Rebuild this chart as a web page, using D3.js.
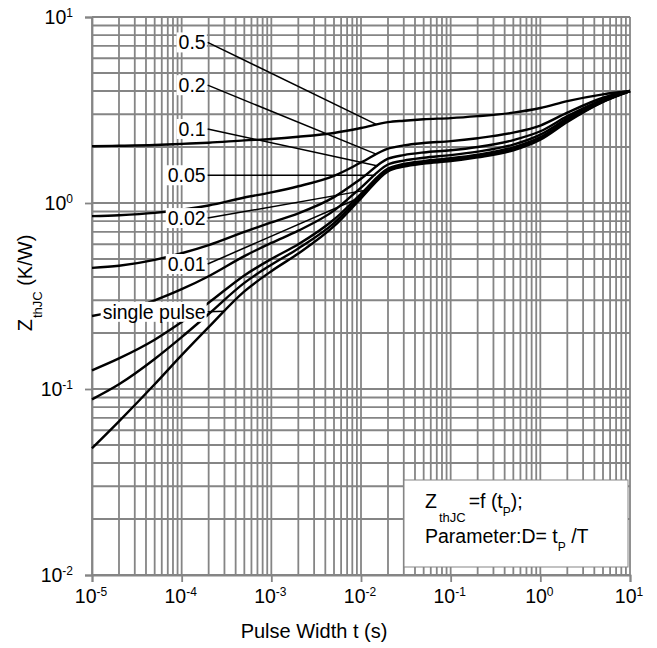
<!DOCTYPE html>
<html>
<head>
<meta charset="utf-8">
<script src="https://cdn.jsdelivr.net/npm/d3@7/dist/d3.min.js"></script>
<style>
html,body{margin:0;padding:0;background:#fff;}
svg{display:block;}
text{font-family:"Liberation Sans", Arial, Helvetica, sans-serif; fill:#000;}
</style>
</head>
<body>
<svg id="chart" width="657" height="648"></svg>
<script>
// ---------- data ----------
const pulseWidths = [1e-5,2e-5,5e-5,1e-4,2e-4,5e-4,1e-3,2e-3,5e-3,1e-2,2e-2,3e-2,5e-2,0.1,0.2,0.5,1,2,5,10];
const zD05    = [2.02,2.03,2.05,2.08,2.11,2.17,2.21,2.27,2.38,2.53,2.72,2.77,2.82,2.86,2.93,3.06,3.24,3.53,3.84,4.0];
const zD02    = [0.85,0.86,0.885,0.92,0.97,1.07,1.14,1.23,1.40,1.65,1.96,2.04,2.10,2.15,2.23,2.39,2.61,3.06,3.68,4.0];
const zD01    = [0.448,0.46,0.495,0.537,0.594,0.70,0.787,0.88,1.075,1.35,1.73,1.81,1.87,1.92,2.00,2.18,2.43,2.93,3.60,4.0];
const zD005   = [0.247,0.264,0.30,0.344,0.404,0.518,0.61,0.71,0.91,1.21,1.61,1.69,1.75,1.81,1.89,2.06,2.33,2.85,3.56,4.0];
const zD002   = [0.126,0.146,0.184,0.229,0.291,0.408,0.50,0.60,0.815,1.12,1.53,1.62,1.68,1.74,1.82,1.99,2.26,2.79,3.53,4.0];
const zD001   = [0.088,0.106,0.145,0.19,0.253,0.372,0.466,0.57,0.78,1.09,1.50,1.59,1.65,1.71,1.79,1.95,2.22,2.76,3.51,4.0];
const zSingle = [0.048,0.067,0.106,0.152,0.215,0.335,0.43,0.535,0.75,1.06,1.48,1.57,1.63,1.68,1.76,1.92,2.19,2.73,3.50,4.0];

const seriesNames  = ["0.5","0.2","0.1","0.05","0.02","0.01","single pulse"];
const seriesValues = [zD05, zD02, zD01, zD005, zD002, zD001, zSingle];
// label anchor (Z value at the label's right edge) and the pulse width where each leader meets its curve
const labelZ  = [7.3, 4.3, 2.5, 1.41, 0.83, 0.47, 0.26];
const leaderT = [0.015, 0.015, 0.0155, 0.0145, 0.011, 0.0095, 3e-4];
const labelT  = 1.95e-4;

const xTickExponents = [-5,-4,-3,-2,-1,0,1];
const yTickExponents = [-2,-1,0,1];

// ---------- chart ----------
const svg = d3.select("#chart");
const L = 92, R = 630, T = 17, B = 575;
const x = d3.scaleLog().domain([1e-5, 10]).range([L, R]);
const y = d3.scaleLog().domain([0.01, 10]).range([B, T]);
const gridColor = "#858585";
const GW = 1.8;
const FS = 19.5;

svg.append("rect").attr("width",657).attr("height",648).attr("fill","#fff");

// grid
const grid = svg.append("g");
grid.selectAll("line.v").data(x.ticks()).join("line").attr("class","v")
  .attr("x1", d => x(d)).attr("x2", d => x(d)).attr("y1", T).attr("y2", B)
  .attr("stroke", gridColor).attr("stroke-width", GW);
grid.selectAll("line.h").data(y.ticks()).join("line").attr("class","h")
  .attr("x1", L).attr("x2", R).attr("y1", d => y(d)).attr("y2", d => y(d))
  .attr("stroke", gridColor).attr("stroke-width", GW);

// axes (major ticks only)
const xDec = xTickExponents.map(e => Math.pow(10, e));
const yDec = yTickExponents.map(e => Math.pow(10, e));
const xAxis = svg.append("g").attr("transform", `translate(0,${B})`)
  .call(d3.axisBottom(x).tickValues(xDec).tickSize(7).tickFormat(""));
const yAxis = svg.append("g").attr("transform", `translate(${L},0)`)
  .call(d3.axisLeft(y).tickValues(yDec).tickSize(7).tickFormat(""));
[xAxis, yAxis].forEach(a => {
  a.select(".domain").attr("stroke", gridColor).attr("stroke-width", GW);
  a.selectAll(".tick line").attr("stroke", gridColor).attr("stroke-width", GW);
});

// tick labels with superscript exponents
xTickExponents.forEach((e, i) => {
  const t = svg.append("text").attr("x", x(xDec[i]) - 1).attr("y", B + 28)
    .attr("text-anchor", "middle").attr("font-size", FS);
  t.append("tspan").text("10");
  t.append("tspan").attr("dy", -7).attr("font-size", 12).text(e);
});
yTickExponents.forEach((e, i) => {
  const t = svg.append("text").attr("x", 73).attr("y", y(yDec[i]) + 7)
    .attr("text-anchor", "end").attr("font-size", FS);
  t.append("tspan").text("10");
  t.append("tspan").attr("dy", -7).attr("font-size", 12).text(e);
});

// curves
const line = d3.line().x(d => x(d[0])).y(d => y(d[1])).curve(d3.curveMonotoneX);
const curves = svg.append("g");
seriesValues.forEach(vals => {
  curves.append("path").datum(pulseWidths.map((t, i) => [t, vals[i]]))
    .attr("d", line).attr("fill", "none").attr("stroke", "#000").attr("stroke-width", 2.4);
});

function interpZ(vals, t) {
  const lt = Math.log10(t);
  for (let i = 0; i < pulseWidths.length - 1; i++) {
    const a = Math.log10(pulseWidths[i]), b = Math.log10(pulseWidths[i+1]);
    if (lt >= a && lt <= b) {
      const f = (lt - a) / (b - a);
      return Math.pow(10, Math.log10(vals[i]) + f * (Math.log10(vals[i+1]) - Math.log10(vals[i])));
    }
  }
  return vals[vals.length - 1];
}

// leaders and labels
const ann = svg.append("g");
seriesNames.forEach((name, i) => {
  const x0 = x(labelT), y0 = y(labelZ[i]);
  const tz = interpZ(seriesValues[i], leaderT[i]);
  ann.append("line").attr("x1", x0).attr("y1", y0).attr("x2", x(leaderT[i])).attr("y2", y(tz))
    .attr("stroke", "#000").attr("stroke-width", 1.5);
});
seriesNames.forEach((name, i) => {
  const x0 = x(labelT), y0 = y(labelZ[i]);
  const grp = ann.append("g");
  const bg = grp.append("rect").attr("fill", "#fff");
  const txt = grp.append("text").attr("x", x0 - 2).attr("y", y0 + 7)
    .attr("text-anchor", "end").attr("font-size", FS).text(name);
  const bb = txt.node().getBBox();
  bg.attr("x", bb.x - 2).attr("y", y0 - 10).attr("width", bb.width + 3).attr("height", 20);
});

// parameter box
const box = svg.append("g");
box.append("rect").attr("x", 404).attr("y", 480).attr("width", 224).attr("height", 87)
  .attr("fill", "#fff").attr("stroke", gridColor).attr("stroke-width", 1);
const l1 = box.append("text").attr("x", 425).attr("y", 508).attr("font-size", FS);
l1.append("tspan").text("Z");
l1.append("tspan").attr("dy", 14).attr("dx", 2).attr("font-size", 13).text("thJC");
l1.append("tspan").attr("dy", -14).attr("dx", 3).text("=f (t");
l1.append("tspan").attr("dy", 8).attr("font-size", 12).text("P");
l1.append("tspan").attr("dy", -8).text(");");
const l2 = box.append("text").attr("x", 425).attr("y", 543).attr("font-size", FS);
l2.append("tspan").text("Parameter:D= t");
l2.append("tspan").attr("dy", 8).attr("font-size", 12).text("P");
l2.append("tspan").attr("dy", -8).text(" /T");

// axis titles
svg.append("text").attr("x", 314).attr("y", 638).attr("text-anchor", "middle")
  .attr("font-size", 20).text("Pulse Width t (s)");
const yt = svg.append("text").attr("transform", "translate(32,283) rotate(-90)")
  .attr("text-anchor", "middle").attr("font-size", 20);
yt.append("tspan").text("Z");
yt.append("tspan").attr("dy", 10).attr("dx", 1).attr("font-size", 13).text("thJC");
yt.append("tspan").attr("dy", -10).text(" (K/W)");
</script>
</body>
</html>
